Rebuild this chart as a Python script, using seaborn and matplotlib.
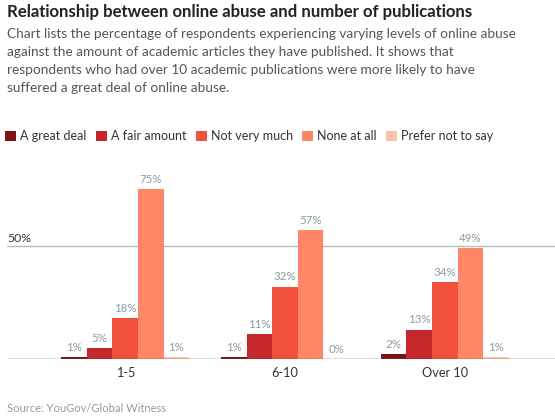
import matplotlib
matplotlib.use("Agg")
import matplotlib.pyplot as plt
from matplotlib.patches import Patch
import seaborn as sns
import pandas as pd

groups = ["1-5", "6-10", "Over 10"]
levels = ["A great deal", "A fair amount", "Not very much", "None at all", "Prefer not to say"]
great_deal = [1, 1, 2]
fair_amount = [5, 11, 13]
not_very_much = [18, 32, 34]
none_at_all = [75, 57, 49]
prefer_not = [1, 0, 1]
colors = ["#7d1418", "#c4282a", "#f1503d", "#ff8768", "#fdc3a6"]

series = [great_deal, fair_amount, not_very_much, none_at_all, prefer_not]
rows = []
for level, vals in zip(levels, series):
    for g, v in zip(groups, vals):
        rows.append({"group": g, "level": level, "value": v})
df = pd.DataFrame(rows)

sns.set_theme(style="white")
plt.rcParams["font.family"] = ["Lato", "DejaVu Sans"]

fig = plt.figure(figsize=(5.55, 4.19), dpi=100)
ax = fig.add_axes([7 / 555, 1 - 359 / 419, 1 - 7 / 555, (359 - 178) / 419])

sns.barplot(data=df, x="group", y="value", hue="level", order=groups,
            hue_order=levels, palette=colors, width=0.8, saturation=1,
            linewidth=0, ax=ax, legend=False)

ax.set_ylim(0, 80)
ax.set_xlim(-0.74, 2.69)
for s in ax.spines.values():
    s.set_visible(False)
ax.set_yticks([])
ax.set_xlabel("")
ax.set_ylabel("")
ax.tick_params(axis="x", length=0, pad=6, labelsize=9.2, labelcolor="#333333")

ax.axhline(50, color="#bbbbbb", lw=1, zorder=0)
ax.axhline(0, color="#555555", lw=1, zorder=3)
ax.text(0.0, 50.8, "50%", transform=ax.get_yaxis_transform(), ha="left", va="bottom",
        fontsize=8.8, color="#333333")

for container in ax.containers:
    ax.bar_label(container, labels=[f"{v:.0f}%" for v in container.datavalues],
                 padding=3, fontsize=8.3, color="#8a9ba3")

fig.text(7 / 555, 1 - 4 / 419, "Relationship between online abuse and number of publications",
         ha="left", va="top", fontsize=12.1, fontweight="bold", color="#222222")
fig.text(7 / 555, 1 - 28 / 419,
         "Chart lists the percentage of respondents experiencing varying levels of online abuse\n"
         "against the amount of academic articles they have published. It shows that\n"
         "respondents who had over 10 academic publications were more likely to have\n"
         "suffered a great deal of online abuse.",
         ha="left", va="top", fontsize=9.8, color="#555555", linespacing=1.6)

handles = [Patch(facecolor=c, edgecolor="none") for c in colors]
fig.legend(handles, levels, loc="center left", bbox_to_anchor=(0.0, 1 - 136 / 419),
           ncol=5, frameon=False, fontsize=9.0, handlelength=0.9, handleheight=0.9,
           handletextpad=0.3, columnspacing=0.75, labelcolor="#333333", borderaxespad=0)

fig.text(7 / 555, 1 - 408 / 419, "Source: YouGov/Global Witness", ha="left", va="center",
         fontsize=8, color="#999999")

fig.savefig("out.png", dpi=100)
